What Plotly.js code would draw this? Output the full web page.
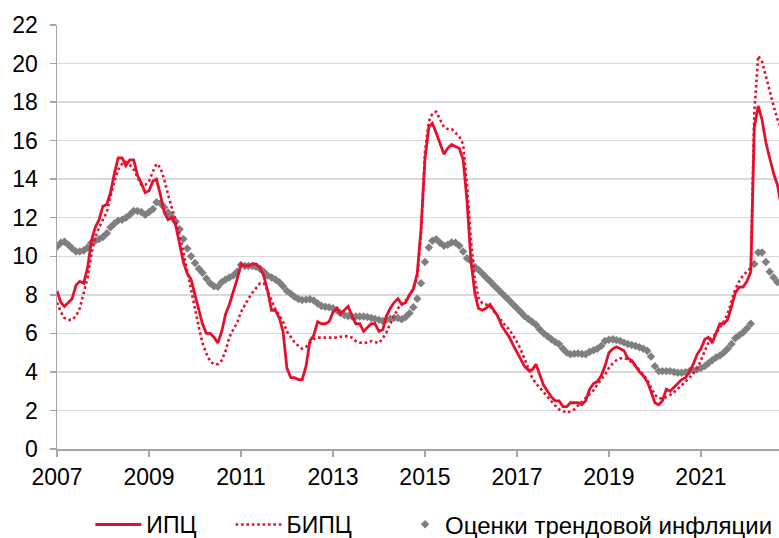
<!DOCTYPE html>
<html>
<head>
<meta charset="utf-8">
<script src="https://cdn.plot.ly/plotly-3.0.1.min.js"></script>
<style>html,body{margin:0;padding:0;background:#fff}#chart{width:779px;height:538px}</style>
</head>
<body>
<div id="chart"></div>
<script>
// Monthly series, January 2007 – October 2022 (year-on-year, %)
const startYear = 2007;
const seriesNames = ["ИПЦ", "БИПЦ", "Оценки трендовой инфляции"];

const ipc = [
  8.2, 7.6, 7.4, 7.6, 7.8, 8.5, 8.7, 8.6, 9.4, 10.8, 11.5, 11.9,
  12.6, 12.7, 13.3, 14.3, 15.1, 15.1, 14.7, 15.0, 15.0, 14.2, 13.8, 13.3,
  13.4, 13.9, 14.0, 13.2, 12.3, 11.9, 12.0, 11.6, 10.7, 9.7, 9.1, 8.8,
  8.0, 7.2, 6.5, 6.0, 6.0, 5.8, 5.5, 6.1, 7.0, 7.5, 8.1, 8.8,
  9.6, 9.5, 9.5, 9.6, 9.6, 9.4, 9.0, 8.2, 7.2, 7.2, 6.8, 6.1,
  4.2, 3.7, 3.7, 3.6, 3.6, 4.3, 5.6, 5.9, 6.6, 6.5, 6.5, 6.6,
  7.1, 7.3, 7.0, 7.2, 7.4, 6.9, 6.5, 6.5, 6.1, 6.3, 6.5, 6.5,
  6.1, 6.2, 6.9, 7.3, 7.6, 7.8, 7.5, 7.6, 8.0, 8.3, 9.1, 11.4,
  15.0, 16.7, 16.9, 16.4, 15.8, 15.3, 15.6, 15.8, 15.7, 15.6, 15.0, 12.9,
  9.8, 8.1, 7.3, 7.2, 7.3, 7.5, 7.2, 6.9, 6.4, 6.1, 5.8, 5.4,
  5.0, 4.6, 4.3, 4.1, 4.1, 4.4, 3.9, 3.3, 3.0, 2.7, 2.5, 2.5,
  2.2, 2.2, 2.4, 2.4, 2.4, 2.3, 2.5, 3.1, 3.4, 3.5, 3.8, 4.3,
  5.0, 5.2, 5.3, 5.2, 5.1, 4.7, 4.6, 4.3, 4.0, 3.8, 3.5, 3.0,
  2.4, 2.3, 2.5, 3.1, 3.0, 3.2, 3.4, 3.6, 3.7, 4.0, 4.4, 4.9,
  5.2, 5.7, 5.8, 5.5, 6.0, 6.5, 6.5, 6.7, 7.4, 8.1, 8.4, 8.4,
  8.7, 9.2, 16.7, 17.8, 17.1, 15.9, 15.1, 14.3, 13.7, 12.6
];

const bipc = [
  7.6, 7.1, 6.8, 6.7, 6.7, 6.9, 7.3, 8.1, 8.9, 10.1, 11.0, 11.5,
  11.9, 12.3, 13.1, 13.9, 14.5, 14.8, 14.9, 14.75, 14.5, 14.1, 13.7, 13.7,
  13.9, 14.4, 14.8, 14.6, 14.0, 13.2, 12.5, 11.9, 11.1, 10.2, 9.2, 8.2,
  7.3, 6.3, 5.5, 4.95, 4.55, 4.4, 4.4, 4.6, 5.1, 5.8, 6.2, 6.55,
  7.1, 7.5, 7.8, 8.1, 8.35, 8.6, 8.6, 8.2, 7.7, 7.25, 6.95, 6.6,
  6.1, 5.8, 5.55, 5.35, 5.2, 5.3, 5.5, 5.7, 5.78, 5.78, 5.78, 5.78,
  5.78, 5.78, 5.82, 5.86, 5.84, 5.78, 5.6, 5.52, 5.5, 5.52, 5.6, 5.55,
  5.5, 5.75, 6.05, 6.5, 6.9, 7.3, 7.5, 7.7, 8.0, 8.3, 8.9, 11.2,
  15.4, 17.0, 17.4, 17.5, 17.1, 16.7, 16.6, 16.6, 16.4, 16.2, 15.8, 13.7,
  10.9, 8.8, 7.85, 7.55, 7.5, 7.4, 7.15, 6.9, 6.6, 6.4, 6.2, 5.9,
  5.55, 5.15, 4.7, 4.15, 3.7, 3.4, 3.15, 2.95, 2.7, 2.45, 2.25, 2.05,
  1.95, 1.88, 1.95, 2.05, 2.25, 2.45, 2.65, 2.83, 3.05, 3.35, 3.6, 3.85,
  4.2, 4.45, 4.6, 4.7, 4.72, 4.65, 4.5, 4.3, 4.1, 3.85, 3.6, 3.2,
  2.8, 2.65, 2.6, 2.7, 2.8, 2.95, 3.1, 3.3, 3.5, 3.7, 3.9, 4.2,
  4.6, 5.1, 5.5, 5.8, 6.0, 6.3, 6.6, 7.0, 7.6, 8.3, 8.7, 9.0,
  9.2, 9.4, 17.5, 20.4, 20.1, 19.4, 18.6, 17.8, 17.1, 16.6
];

const trend = [
  10.5, 10.7, 10.75, 10.6, 10.4, 10.25, 10.25, 10.3, 10.45, 10.7, 10.8, 10.9,
  11.0, 11.2, 11.5, 11.7, 11.85, 11.9, 12.0, 12.15, 12.35, 12.35, 12.3, 12.15,
  12.3, 12.45, 12.8, 12.75, 12.55, 12.27, 12.05, 11.8, 11.4, 10.9, 10.4, 10.0,
  9.65, 9.35, 9.15, 8.85, 8.6, 8.45, 8.42, 8.65, 8.8, 8.9, 9.0, 9.2,
  9.55, 9.5, 9.5, 9.5, 9.45, 9.35, 9.2, 9.0, 8.9, 8.8, 8.65, 8.45,
  8.2, 8.05, 7.9, 7.78, 7.73, 7.75, 7.77, 7.7, 7.55, 7.42, 7.38, 7.35,
  7.3, 7.2, 7.05, 6.95, 6.9, 6.87, 6.87, 6.87, 6.87, 6.85, 6.8, 6.75,
  6.7, 6.64, 6.7, 6.76, 6.8, 6.8, 6.73, 6.85, 7.05, 7.35, 7.8, 8.6,
  9.7, 10.45, 10.8, 10.88, 10.7, 10.55, 10.6, 10.72, 10.7, 10.55, 10.25, 9.9,
  9.75, 9.45, 9.3, 9.1, 8.9, 8.7, 8.5, 8.3, 8.1, 7.9, 7.7, 7.5,
  7.3, 7.1, 6.9, 6.75, 6.6, 6.45, 6.2, 6.0, 5.85, 5.7, 5.55, 5.45,
  5.2, 5.0, 4.92, 4.94, 4.96, 4.93, 4.92, 5.05, 5.12, 5.2, 5.35, 5.6,
  5.67, 5.69, 5.65, 5.6, 5.52, 5.45, 5.4, 5.34, 5.28, 5.2, 5.1, 4.8,
  4.3, 4.04, 4.04, 4.04, 4.04, 4.0, 3.96, 3.96, 3.98, 4.04, 4.08, 4.13,
  4.2, 4.3, 4.45, 4.6, 4.75, 4.85, 5.0, 5.2, 5.45, 5.75, 5.9, 6.05,
  6.25, 6.5, 9.6, 10.2, 10.2, 9.7, 9.2, 8.9, 8.65, 8.6
];

function monthDates(n) {
  const out = [];
  for (let i = 0; i < n; i++) {
    const y = startYear + Math.floor(i / 12);
    const m = (i % 12) + 1;
    out.push(y + "-" + (m < 10 ? "0" + m : m) + "-01");
  }
  return out;
}
const dates = monthDates(ipc.length);

const RED = "#E6102E";
const GREY = "#7F7F7F";
const FONT = "Liberation Sans, Arial, sans-serif";

const traces = [
  {
    x: dates, y: trend, name: seriesNames[2], type: "scatter", mode: "markers",
    marker: {symbol: "diamond", size: 6.5, color: GREY},
    legend: "legend3"
  },
  {
    x: dates, y: bipc, name: seriesNames[1], type: "scatter", mode: "lines",
    line: {color: RED, width: 2.6, dash: "2.6px,2.8px"},
    legend: "legend2"
  },
  {
    x: dates, y: ipc, name: seriesNames[0], type: "scatter", mode: "lines",
    line: {color: RED, width: 2.8},
    legend: "legend"
  }
];

const legendBase = {
  orientation: "h", yref: "container", xref: "container",
  yanchor: "middle", y: 0.025, xanchor: "left",
  font: {family: FONT, size: 23, color: "#000"}, bgcolor: "rgba(0,0,0,0)"
};

const layout = {
  width: 779, height: 538,
  margin: {l: 57, r: 0, t: 25, b: 89, autoexpand: false},
  paper_bgcolor: "#fff", plot_bgcolor: "#fff",
  font: {family: FONT, size: 23, color: "#000"},
  showlegend: true,
  legend: Object.assign({}, legendBase, {x: 0.116, itemwidth: 46}),
  legend2: Object.assign({}, legendBase, {x: 0.296, itemwidth: 46}),
  legend3: Object.assign({}, legendBase, {x: 0.520, font: {family: FONT, size: 24, color: "#000"}}),
  xaxis: {
    type: "date",
    range: ["2007-01-01", "2022-09-13"],
    tick0: "2007-01-01", dtick: "M24", tickformat: "%Y",
    showgrid: false, zeroline: false,
    showline: true, linecolor: "#A6A6A6", linewidth: 1.5,
    ticks: "outside", ticklen: 6, tickcolor: "#A6A6A6", tickwidth: 1.5,
    ticklabelstandoff: 1,
    tickfont: {family: FONT, size: 23, color: "#000"}
  },
  yaxis: {
    range: [0, 22], dtick: 2, tick0: 0,
    showgrid: true, gridcolor: "#D9D9D9", gridwidth: 1.5,
    zeroline: false,
    showline: true, linecolor: "#A6A6A6", linewidth: 1.5,
    ticks: "outside", ticklen: 6, tickcolor: "#A6A6A6", tickwidth: 1.5,
    ticklabelstandoff: 7,
    tickfont: {family: FONT, size: 23, color: "#000"}
  }
};

Plotly.newPlot("chart", traces, layout, {staticPlot: true, displayModeBar: false});
</script>
</body>
</html>
